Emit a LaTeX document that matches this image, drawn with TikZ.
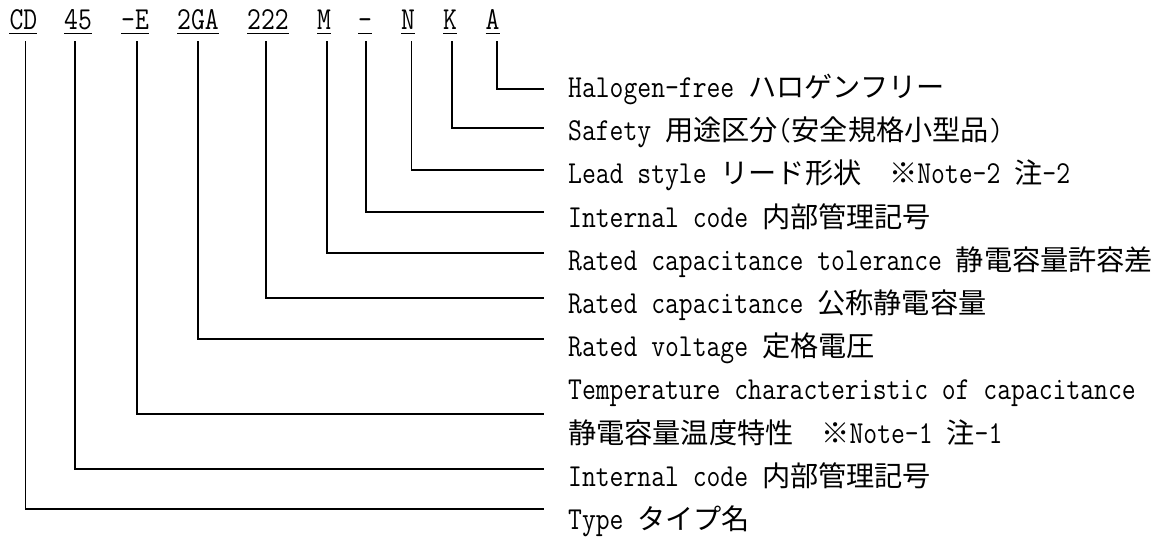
\documentclass[tikz,border=0pt]{standalone}
\usepackage{fontspec}
\setmainfont{Latin Modern Mono}[FakeStretch=0.84]
\newfontfamily\jpf{Noto Sans CJK JP}[Scale=0.881]
\newcommand\jp[1]{{\jpf #1}}
\usetikzlibrary{calc}
\begin{document}
\begin{tikzpicture}[x=1pt,y=-1pt,
  font=\fontsize{32}{36}\selectfont,
  lbl/.style={anchor=base west, inner sep=0pt},
  desc/.style={anchor=base west, inner sep=0pt},
  conn/.style={line width=1.1pt, line cap=rect},
  uline/.style={line width=1.6pt}]
\useasboundingbox (0,0) rectangle (1163,537);
% part-number labels
\node[lbl] (lCD)  at (9.3,29.3)  {CD};
\node[lbl] (l45)  at (64,29.3)   {45};
\node[lbl] (lE)   at (121,29.3)  {-E};
\node[lbl] (l2GA) at (177,29.3)  {2GA};
\node[lbl] (l222) at (247,29.3)  {222};
\node[lbl] (lM)   at (317,29.3)  {M};
\node[lbl] (lH)   at (358,29.3)  {-};
\node[lbl] (lN)   at (401,29.3)  {N};
\node[lbl] (lK)   at (443,29.3)  {K};
\node[lbl] (lA)   at (485.5,29.3){A};
\foreach \n in {lCD,l45,lE,l2GA,l222,lM,lH,lN,lK,lA}
  \draw[uline] ($(\n.base west)+(0,4.3)$) -- ($(\n.base east)+(0,4.3)$);
% descriptions
\node[desc] (dA)   at (568,97.5)  {Halogen-free \jp{ハロゲンフリー}};
\node[desc] (dK)   at (568,140.7) {Safety \jp{用途区分}(\jp{安全規格小型品})};
\node[desc] (dN)   at (568,183.9) {Lead style \jp{リード形状}\ \ \jp{※}Note-2 \jp{注}-2};
\node[desc] (dH)   at (568,227.1) {Internal code \jp{内部管理記号}};
\node[desc] (dM)   at (568,270.3) {Rated capacitance tolerance \jp{静電容量許容差}};
\node[desc] (d222) at (568,313.5) {Rated capacitance \jp{公称静電容量}};
\node[desc] (d2GA) at (568,356.7) {Rated voltage \jp{定格電圧}};
\node[desc] (dE)   at (568,399.9) {Temperature characteristic of capacitance};
\node[desc] (dE2)  at (568,443.1) {\jp{静電容量温度特性}\ \ \jp{※}Note-1 \jp{注}-1};
\node[desc] (d45)  at (568,486.3) {Internal code \jp{内部管理記号}};
\node[desc] (dCD)  at (568,529.5) {Type \jp{タイプ名}};
% connector start points (below labels) and end points (left of descriptions)
\coordinate (tCD)  at (25.7,42);  \coordinate (eCD)  at (543,509);
\coordinate (t45)  at (75,42);    \coordinate (e45)  at (543,469);
\coordinate (tE)   at (137,42);   \coordinate (eE)   at (543,414);
\coordinate (t2GA) at (198,42);   \coordinate (e2GA) at (543,339);
\coordinate (t222) at (266,42);   \coordinate (e222) at (543,298);
\coordinate (tM)   at (327,42);   \coordinate (eM)   at (543,253);
\coordinate (tH)   at (366,42);   \coordinate (eH)   at (543,212);
\coordinate (tN)   at (411.5,42); \coordinate (eN)   at (543,170);
\coordinate (tK)   at (452,42);   \coordinate (eK)   at (543,128);
\coordinate (tA)   at (497,42);   \coordinate (eA)   at (543,89);
\foreach \k in {CD,45,E,2GA,222,M,H,N,K,A}
  \draw[conn] (t\k) |- (e\k);
\end{tikzpicture}
\end{document}
